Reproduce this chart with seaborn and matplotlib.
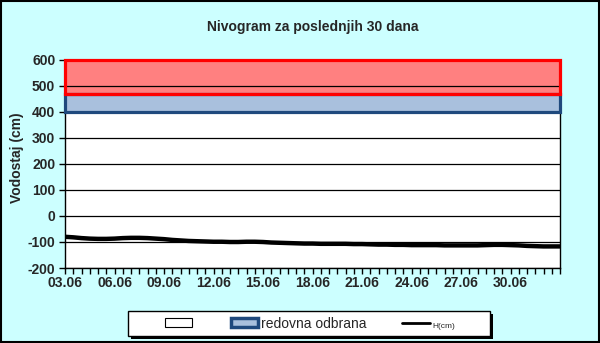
import matplotlib
matplotlib.use("Agg")
import matplotlib.pyplot as plt
import seaborn as sns
import numpy as np
import pandas as pd
from matplotlib.patches import Rectangle, Patch
from matplotlib.lines import Line2D

sns.set_style("white")
plt.rcParams['font.family'] = ['Liberation Sans', 'DejaVu Sans']

title = "Nivogram za poslednjih 30 dana"
ylabel = "Vodostaj (cm)"
date_labels = ["03.06", "06.06", "09.06", "12.06", "15.06",
               "18.06", "21.06", "24.06", "27.06", "30.06"]
level_cm = [-80, -82, -85, -87, -88, -88, -87, -85, -84, -84,
            -85, -87, -89, -92, -94, -96, -97, -98, -99, -99,
            -100, -100, -99, -99, -100, -102, -103, -104, -105, -106,
            -106, -107, -107, -107, -107, -108, -108, -109, -110, -110,
            -111, -111, -112, -112, -112, -112, -113, -113, -113, -113,
            -113, -112, -111, -111, -112, -113, -115, -116, -117, -117,
            -117]
band_redovna = [400, 470]
band_vanredna = [470, 600]
legend_labels = ["", "redovna odbrana", "H(cm)"]
y_ticks = [-200, -100, 0, 100, 200, 300, 400, 500, 600]

df = pd.DataFrame({"t": np.arange(len(level_cm)), "H": level_cm})

fig = plt.figure(figsize=(6, 3.43), dpi=100, facecolor='#CCFFFF')
ax = fig.add_axes([65/600, 1-268/343, 495/600, 208/343])
ax.set_facecolor('white')

# bands
ax.axhspan(band_redovna[0], band_redovna[1], facecolor='#A9C0DD', edgecolor='none', zorder=1)
ax.axhspan(band_vanredna[0], band_vanredna[1], facecolor='#FF8080', edgecolor='none', zorder=1)
n = len(level_cm) - 1
ax.add_patch(Rectangle((0, band_redovna[0]), n, band_redovna[1]-band_redovna[0],
                       fill=False, edgecolor='#1F497D', lw=2.3, zorder=3, clip_on=False))
ax.add_patch(Rectangle((0, band_vanredna[0]), n, band_vanredna[1]-band_vanredna[0],
                       fill=False, edgecolor='#FF0000', lw=2.3, zorder=3.1, clip_on=False))

sns.lineplot(data=df, x="t", y="H", ax=ax, color='black', lw=3.2, zorder=4)

ax.set_xlim(0, n)
ax.set_ylim(-200, 600)
ax.set_yticks(y_ticks)
ax.set_yticklabels([str(v) for v in y_ticks], fontsize=10, fontweight='bold')
ax.set_xticks(np.arange(0, 6*len(date_labels), 6))
ax.set_xticklabels(date_labels, fontsize=10, fontweight='bold')
ax.set_xticks(np.arange(0, n+1, 1), minor=True)
ax.tick_params(axis='both', which='both', direction='out', length=4, width=1,
               color='black', bottom=True, left=True)
ax.tick_params(axis='x', which='major', pad=2)
ax.tick_params(axis='y', which='major', pad=3)
ax.yaxis.grid(True, color='black', lw=0.9)
ax.xaxis.grid(False)
ax.set_axisbelow(False)
for s in ['left', 'right', 'bottom']:
    ax.spines[s].set_color('black')
    ax.spines[s].set_linewidth(1)
ax.spines['top'].set_visible(False)

ax.set_xlabel("")
ax.set_ylabel(ylabel, fontsize=10, fontweight='bold')
ax.yaxis.set_label_coords(-41/495, 0.53)
ax.set_title(title, fontsize=10, fontweight='bold', pad=21)

# legend frame with shadow
fig.patches.append(Rectangle((131/600, 1-339/343), 362/600, 25/343, transform=fig.transFigure,
                             facecolor='black', edgecolor='black', lw=0, zorder=5))
fig.patches.append(Rectangle((128/600, 1-336/343), 362/600, 25/343, transform=fig.transFigure,
                             facecolor='white', edgecolor='black', lw=1, zorder=6))

handles = [Patch(facecolor='white', edgecolor='black', lw=0.8),
           Patch(facecolor='#A9C0DD', edgecolor='#1F497D', lw=2.5),
           Line2D([], [], color='black', lw=2)]
leg = fig.legend(handles, legend_labels, ncol=3, loc='center',
                 bbox_to_anchor=(310/600, 1-323.5/343), frameon=False,
                 fontsize=10, handlelength=1.95,
                 handleheight=0.55, columnspacing=2.6, handletextpad=0.2,
                 borderpad=0.3)
leg.set_zorder(7)
leg.get_texts()[2].set_fontsize(6)

fig.patches.append(Rectangle((0.001, 0.002), 0.997, 0.995, transform=fig.transFigure,
                             fill=False, edgecolor='black', lw=1.5))

fig.savefig("out.png", dpi=100, facecolor=fig.get_facecolor())
